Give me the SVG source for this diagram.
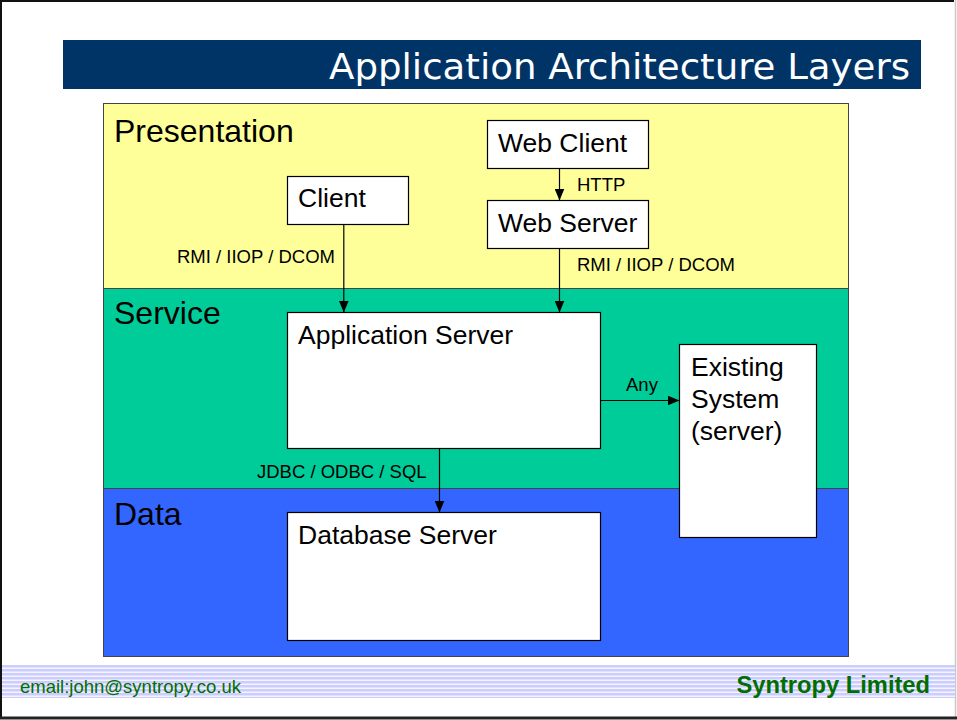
<svg xmlns="http://www.w3.org/2000/svg" width="957" height="720" viewBox="0 0 957 720">
  <style>
    .sans { font-family: "Liberation Sans", Arial, sans-serif; fill: #000; }
    .layer { stroke: #444; stroke-width: 1; }
    .layer-label { font-size: 32px; }
    .box { fill: #fff; stroke: #000; stroke-width: 1.2; }
    .box-text { font-size: 26.5px; }
    .proto { font-size: 18.5px; }
    .conn { stroke: #000; stroke-width: 1.2; fill: none; marker-end: url(#arrow); }
  </style>
  <defs>
    <marker id="arrow" viewBox="0 0 12 10" refX="12" refY="5" markerWidth="12" markerHeight="10" markerUnits="userSpaceOnUse" orient="auto">
      <path d="M0,0 L12,5 L0,10 Z" fill="#000"/>
    </marker>
    <pattern id="stripes" x="0" y="665" width="8" height="4" patternUnits="userSpaceOnUse">
      <rect width="8" height="4" fill="#ccccff"/>
      <rect y="2.6" width="8" height="1.2" fill="#ffffff"/>
    </pattern>
  </defs>

  <!-- page -->
  <rect x="0" y="0" width="957" height="720" fill="#fff"/>
  <line x1="955.5" y1="0" x2="955.5" y2="718" stroke="#c8c8c8" stroke-width="1.5"/>
  <path d="M1,718 L1,1 L954,1" fill="none" stroke="#111" stroke-width="2"/>
  <line x1="0" y1="718" x2="957" y2="718" stroke="#222" stroke-width="3"/>

  <!-- title bar -->
  <g id="title">
    <rect x="63" y="40" width="858" height="49" fill="#003366"/>
    <text x="910" y="79" text-anchor="end" font-family="DejaVu Sans Condensed, DejaVu Sans, sans-serif" font-size="36" fill="#fff" textLength="581" lengthAdjust="spacingAndGlyphs">Application Architecture Layers</text>
  </g>

  <!-- layers -->
  <g id="layer-presentation">
    <rect class="layer" x="103.5" y="103.5" width="745" height="185" fill="#ffff99"/>
    <text class="sans layer-label" x="114" y="142">Presentation</text>
  </g>
  <g id="layer-service">
    <rect class="layer" x="103.5" y="288.5" width="745" height="200" fill="#00cc99"/>
    <text class="sans layer-label" x="114" y="324">Service</text>
  </g>
  <g id="layer-data">
    <rect class="layer" x="103.5" y="488.5" width="745" height="168" fill="#3366ff"/>
    <text class="sans layer-label" x="114" y="525">Data</text>
  </g>

  <!-- nodes -->
  <g id="client">
    <rect class="box" x="287.5" y="176.5" width="121" height="48"/>
    <text class="sans box-text" x="298" y="207">Client</text>
  </g>
  <g id="web-client">
    <rect class="box" x="487.5" y="120.5" width="161" height="48"/>
    <text class="sans box-text" x="498" y="152">Web Client</text>
  </g>
  <g id="web-server">
    <rect class="box" x="487.5" y="200.5" width="161" height="48"/>
    <text class="sans box-text" x="498" y="232">Web Server</text>
  </g>
  <g id="application-server">
    <rect class="box" x="287.5" y="312.5" width="313" height="136"/>
    <text class="sans box-text" x="298" y="344">Application Server</text>
  </g>
  <g id="existing-system">
    <rect class="box" x="679.5" y="344.5" width="137" height="193"/>
    <text class="sans box-text" x="691" y="376">Existing</text>
    <text class="sans box-text" x="691" y="408">System</text>
    <text class="sans box-text" x="691" y="440">(server)</text>
  </g>
  <g id="database-server">
    <rect class="box" x="287.5" y="512.5" width="313" height="128"/>
    <text class="sans box-text" x="298" y="544">Database Server</text>
  </g>

  <!-- connectors -->
  <g id="connectors">
    <line class="conn" x1="343.8" y1="224.5" x2="343.8" y2="312.5"/>
    <line class="conn" x1="559.5" y1="168.5" x2="559.5" y2="200.5"/>
    <line class="conn" x1="559.5" y1="248.5" x2="559.5" y2="312.5"/>
    <line class="conn" x1="600.5" y1="400.5" x2="679.5" y2="400.5"/>
    <line class="conn" x1="439.5" y1="448.5" x2="439.5" y2="512.5"/>
    <text class="sans proto" x="177" y="263">RMI / IIOP / DCOM</text>
    <text class="sans proto" x="577" y="191">HTTP</text>
    <text class="sans proto" x="577" y="271">RMI / IIOP / DCOM</text>
    <text class="sans proto" x="626" y="391">Any</text>
    <text class="sans proto" x="257" y="478">JDBC / ODBC / SQL</text>
  </g>

  <!-- footer -->
  <g id="footer">
    <rect x="2" y="665" width="953" height="33" fill="url(#stripes)"/>
    <text x="20" y="693" font-family="Liberation Sans, Arial, sans-serif" font-size="18.5" fill="#006e00">email:john@syntropy.co.uk</text>
    <text x="930" y="693" text-anchor="end" font-family="Liberation Sans, Arial, sans-serif" font-size="23.7" font-weight="bold" fill="#006e00">Syntropy Limited</text>
  </g>
</svg>
